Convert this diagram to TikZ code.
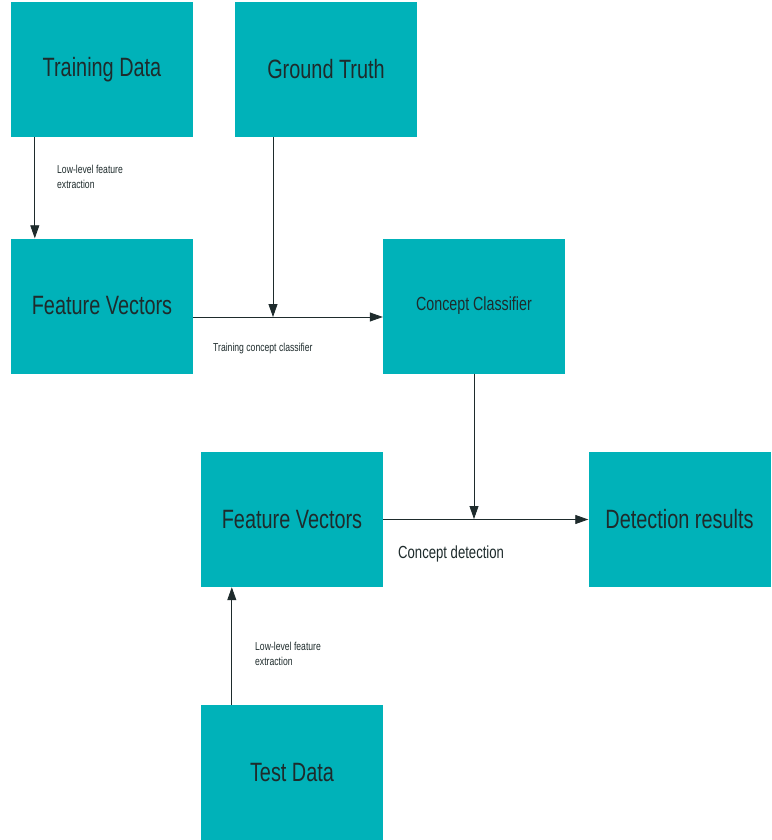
\documentclass[tikz,border=0pt]{standalone}
\usepackage{fontspec}
\setmainfont{Liberation Sans}[FakeStretch=0.75]
\usepackage{xcolor}
\usetikzlibrary{positioning,arrows.meta,calc}
\definecolor{boxteal}{HTML}{00B2B9}
\definecolor{inkdark}{HTML}{1E2B2C}
\begin{document}
\begin{tikzpicture}[
    x=1pt, y=-1pt,
    >={Triangle[length=13pt, width=9pt]},
    every step box/.style={rectangle, fill=boxteal, minimum width=182pt, minimum height=135pt, inner sep=0pt, text=inkdark},
    big box/.style={every step box, font=\fontsize{26.5}{30}\selectfont},
    mid box/.style={every step box, font=\fontsize{19}{22}\selectfont},
    flow/.style={->, draw=inkdark, line width=0.8pt},
    small label/.style={anchor=west, align=left, text=inkdark, inner sep=0pt, font=\fontsize{11.5}{15}\selectfont},
    mid label/.style={anchor=west, align=left, text=inkdark, inner sep=0pt, font=\fontsize{17.5}{20}\selectfont}
]
    \useasboundingbox (0,0) rectangle (771,840);

    \node[big box] (train) at (102, 69.5) {Training Data};
    \node[big box] (truth) at (326, 69.5) {Ground Truth};
    \node[big box] (feat-1) at (102, 306) {Feature Vectors};
    \node[mid box] (clf) at (474, 306) {Concept Classifier};
    \node[big box] (feat-2) at (292, 519.5) {Feature Vectors};
    \node[big box] (result) at (679.5, 519.5) {Detection results};
    \node[big box] (test) at (292, 772.5) {Test Data};

    \coordinate (truth-hit) at (273, 317);
    \coordinate (clf-hit) at (474, 519);

    \draw[flow] ([xshift=24pt]train.south west) -- ([xshift=24pt]feat-1.north west);
    \draw[flow] (truth.south -| truth-hit) -- (truth-hit);
    \draw[flow] (feat-1.east |- truth-hit) -- (clf.west |- truth-hit);
    \draw[flow] (clf.south) -- (clf-hit);
    \draw[flow] (feat-2.east) -- (result.west);
    \draw[flow] ([xshift=31pt]test.north west) -- ([xshift=31pt]feat-2.south west);

    \node[small label] (lbl-low-1) at (57, 176.5) {Low-level feature\\extraction};
    \node[small label] (lbl-train) at (213, 349) {Training concept classifier};
    \node[mid label] (lbl-detect) at (398, 554) {Concept detection};
    \node[small label] (lbl-low-2) at (255, 653.5) {Low-level feature\\extraction};
\end{tikzpicture}
\end{document}
